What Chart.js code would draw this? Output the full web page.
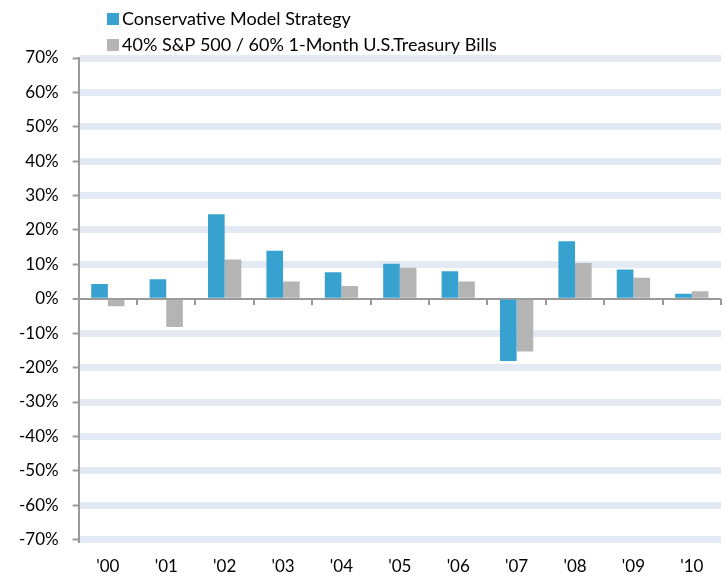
<!DOCTYPE html>
<html>
<head>
<meta charset="utf-8">
<script src="https://cdn.jsdelivr.net/npm/chart.js@4/dist/chart.umd.min.js"></script>
<style>
  html, body { margin: 0; padding: 0; background: #fff; }
  #wrap { width: 726px; height: 576px; position: relative; }
</style>
</head>
<body>
<div id="wrap"><canvas id="c" width="726" height="576"></canvas></div>
<script>
const categories = ["'00", "'01", "'02", "'03", "'04", "'05", "'06", "'07", "'08", "'09", "'10"];
const seriesNames = ["Conservative Model Strategy", "40% S&P 500 / 60% 1-Month U.S.Treasury Bills"];
const conservative = [4.3, 5.7, 24.6, 14.0, 7.7, 10.2, 8.0, -18.1, 16.7, 8.5, 1.5];
const benchmark = [-2.2, -8.2, 11.4, 5.0, 3.7, 9.0, 5.0, -15.3, 10.4, 6.1, 2.2];
const yMin = -70, yMax = 70, yStep = 10;

const FONT = "Lato, 'DejaVu Sans', sans-serif";

const legendPlugin = {
  id: 'stackedLegend',
  afterDraw(chart) {
    const ctx = chart.ctx;
    ctx.save();
    ctx.font = '18px ' + FONT;
    ctx.textBaseline = 'middle';
    chart.data.datasets.forEach((ds, i) => {
      const y = 19 + i * 26;
      ctx.fillStyle = ds.backgroundColor;
      ctx.fillRect(107, y - 6, 12, 12);
      ctx.fillStyle = '#000';
      ctx.fillText(ds.label, 122, y);
    });
    ctx.restore();
  }
};

// tick marks under the zero axis line at category boundaries
const zeroTicksPlugin = {
  id: 'zeroTicks',
  beforeDatasetsDraw(chart) {
    const {ctx, chartArea, scales} = chart;
    const y0 = Math.round(scales.y.getPixelForValue(0));
    const n = chart.data.labels.length;
    ctx.save();
    ctx.strokeStyle = '#999';
    ctx.lineWidth = 2;
    ctx.beginPath();
    for (let i = 1; i <= n; i++) {
      const x = Math.round(chartArea.left + i * chartArea.width / n);
      ctx.moveTo(x, y0);
      ctx.lineTo(x, y0 + 6);
    }
    ctx.stroke();
    ctx.restore();
  }
};

const isZero = (c) => c.tick && Math.abs(c.tick.value) < 1e-9;

new Chart(document.getElementById('c'), {
  type: 'bar',
  data: {
    labels: categories,
    datasets: [
      { label: seriesNames[0], data: conservative, backgroundColor: '#37a2d0', borderWidth: 0 },
      { label: seriesNames[1], data: benchmark, backgroundColor: '#b4b4b4', borderWidth: 0 }
    ]
  },
  plugins: [legendPlugin, zeroTicksPlugin],
  options: {
    responsive: false,
    animation: false,
    devicePixelRatio: 1,
    layout: { padding: { top: 58, left: 5, right: 5, bottom: -18 } },
    plugins: { legend: { display: false }, tooltip: { enabled: false } },
    datasets: { bar: { categoryPercentage: 0.57, barPercentage: 1.0 } },
    scales: {
      x: {
        type: 'category',
        position: 'bottom',
        grid: { display: false, drawTicks: false },
        border: { display: false },
        ticks: { color: '#000', font: { family: FONT, size: 17 }, padding: 17, maxRotation: 0 }
      },
      y: {
        min: yMin, max: yMax,
        grid: {
          color: (c) => isZero(c) ? '#999' : '#e3eaf4',
          lineWidth: (c) => isZero(c) ? 2 : 7,
          drawTicks: true,
          tickLength: 6,
          tickColor: '#999',
          tickWidth: 2
        },
        border: { display: true, color: '#999', width: 2 },
        ticks: {
          stepSize: yStep,
          color: '#000',
          padding: 14,
          font: { family: FONT, size: 17 },
          callback: (v) => v + '%'
        }
      }
    }
  }
});
</script>
</body>
</html>
